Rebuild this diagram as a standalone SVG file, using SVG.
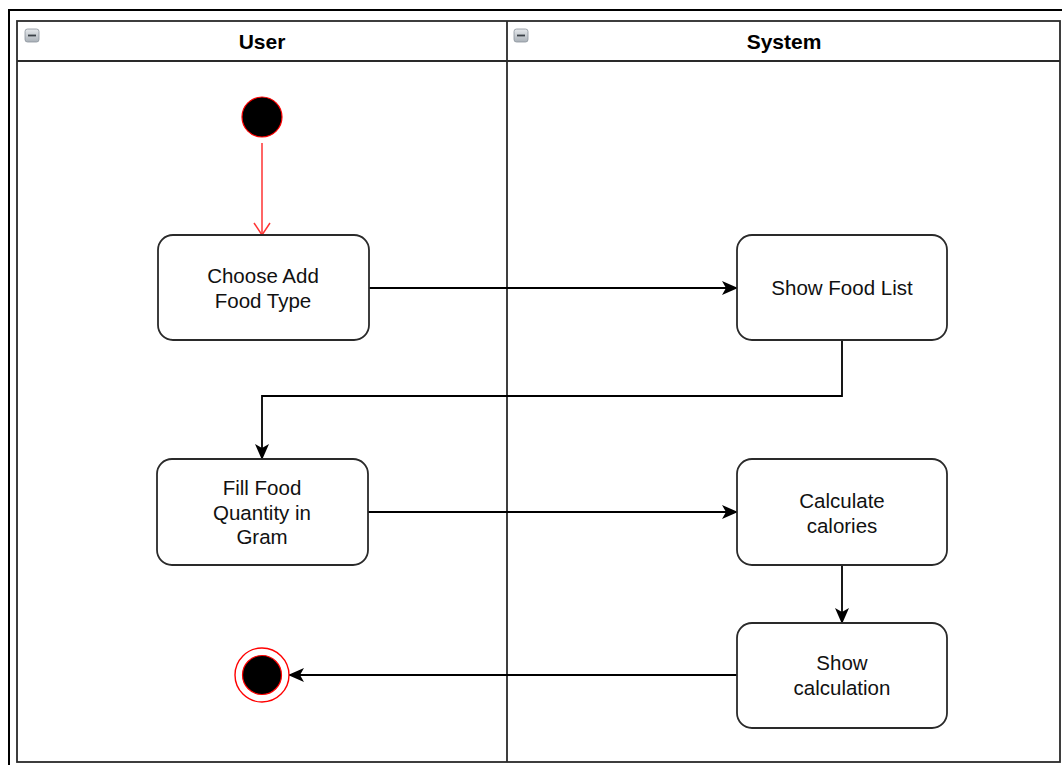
<svg xmlns="http://www.w3.org/2000/svg" width="1062" height="765" viewBox="0 0 1062 765">
  <defs>
    <style>
      .lane { fill: none; stroke: #2a2a2a; stroke-width: 1.8; }
      .frame { fill: none; stroke: #000; stroke-width: 2; }
      .head { font-family: "Liberation Sans", Arial, sans-serif; font-size: 21px; font-weight: bold; fill: #000; text-anchor: middle; }
      .act rect { fill: #fff; stroke: #2a2a2a; stroke-width: 1.8; }
      .act text { font-family: "Liberation Sans", Arial, sans-serif; font-size: 20.5px; fill: #111; text-anchor: middle; }
      .flow { fill: none; stroke: #000; stroke-width: 1.8; marker-end: url(#classic); }
      .start-flow { fill: none; stroke: #ff3333; stroke-width: 1.5; marker-end: url(#open); }
    </style>
    <linearGradient id="btn" x1="0" y1="0" x2="0" y2="1">
      <stop offset="0" stop-color="#e6e9ec"/>
      <stop offset="1" stop-color="#aab1b8"/>
    </linearGradient>
    <marker id="classic" viewBox="0 0 16 14" refX="15" refY="7" markerWidth="16" markerHeight="14" markerUnits="userSpaceOnUse" orient="auto">
      <path d="M0,0 L16,7 L0,14 L4,7 Z" fill="#000"/>
    </marker>
    <marker id="open" viewBox="0 0 14 18" refX="13" refY="9" markerWidth="14" markerHeight="18" markerUnits="userSpaceOnUse" orient="auto">
      <path d="M1,1 L13,9 L1,17" fill="none" stroke="#ff3333" stroke-width="1.5"/>
    </marker>
  </defs>

  <rect width="1062" height="765" fill="#fff"/>

  <!-- outer frame (only top and left edges fall inside the canvas) -->
  <path class="frame" d="M9,765 L9,10 L1062,10"/>

  <!-- swimlane pool -->
  <g id="pool">
    <rect class="lane" x="17" y="21" width="1043" height="741"/>
    <line class="lane" x1="17" y1="61" x2="1060" y2="61"/>
    <line class="lane" x1="507" y1="21" x2="507" y2="762"/>
  </g>

  <g id="lane-user">
    <rect x="25" y="29" width="14" height="13" rx="2.5" fill="url(#btn)" stroke="#8a939c" stroke-width="0.8"/>
    <line x1="28" y1="35.5" x2="36" y2="35.5" stroke="#3b4148" stroke-width="1.8"/>
    <text class="head" x="262" y="49">User</text>
  </g>

  <g id="lane-system">
    <rect x="514" y="29" width="14" height="13" rx="2.5" fill="url(#btn)" stroke="#8a939c" stroke-width="0.8"/>
    <line x1="517" y1="35.5" x2="525" y2="35.5" stroke="#3b4148" stroke-width="1.8"/>
    <text class="head" x="784" y="49">System</text>
  </g>

  <!-- connectors -->
  <g id="connectors">
    <path class="start-flow" d="M262,143 L262,235"/>
    <path class="flow" d="M369,288 L737,288"/>
    <path class="flow" d="M842,340 L842,396 L262,396 L262,459"/>
    <path class="flow" d="M368,512 L737,512"/>
    <path class="flow" d="M842,565 L842,623"/>
    <path class="flow" d="M737,675 L289,675"/>
  </g>

  <!-- initial node -->
  <g id="start">
    <circle cx="262" cy="117" r="20" fill="#000" stroke="#ff0000" stroke-width="1.2"/>
  </g>

  <g id="choose-food-type" class="act">
    <rect x="158" y="235" width="211" height="105" rx="15"/>
    <text x="263" y="283">Choose Add</text>
    <text x="263" y="308">Food Type</text>
  </g>

  <g id="show-food-list" class="act">
    <rect x="737" y="235" width="210" height="105" rx="15"/>
    <text x="842" y="295">Show Food List</text>
  </g>

  <g id="fill-quantity" class="act">
    <rect x="157" y="459" width="211" height="106" rx="15"/>
    <text x="262" y="495">Fill Food</text>
    <text x="262" y="520">Quantity in</text>
    <text x="262" y="544">Gram</text>
  </g>

  <g id="calculate-calories" class="act">
    <rect x="737" y="459" width="210" height="106" rx="15"/>
    <text x="842" y="508">Calculate</text>
    <text x="842" y="533">calories</text>
  </g>

  <g id="show-calculation" class="act">
    <rect x="737" y="623" width="210" height="105" rx="15"/>
    <text x="842" y="670">Show</text>
    <text x="842" y="695">calculation</text>
  </g>

  <!-- final node -->
  <g id="end">
    <circle cx="262" cy="675" r="27" fill="#fff" stroke="#ff0000" stroke-width="1.4"/>
    <circle cx="262" cy="675" r="19.5" fill="#000" stroke="#ff0000" stroke-width="1.2"/>
  </g>
</svg>
